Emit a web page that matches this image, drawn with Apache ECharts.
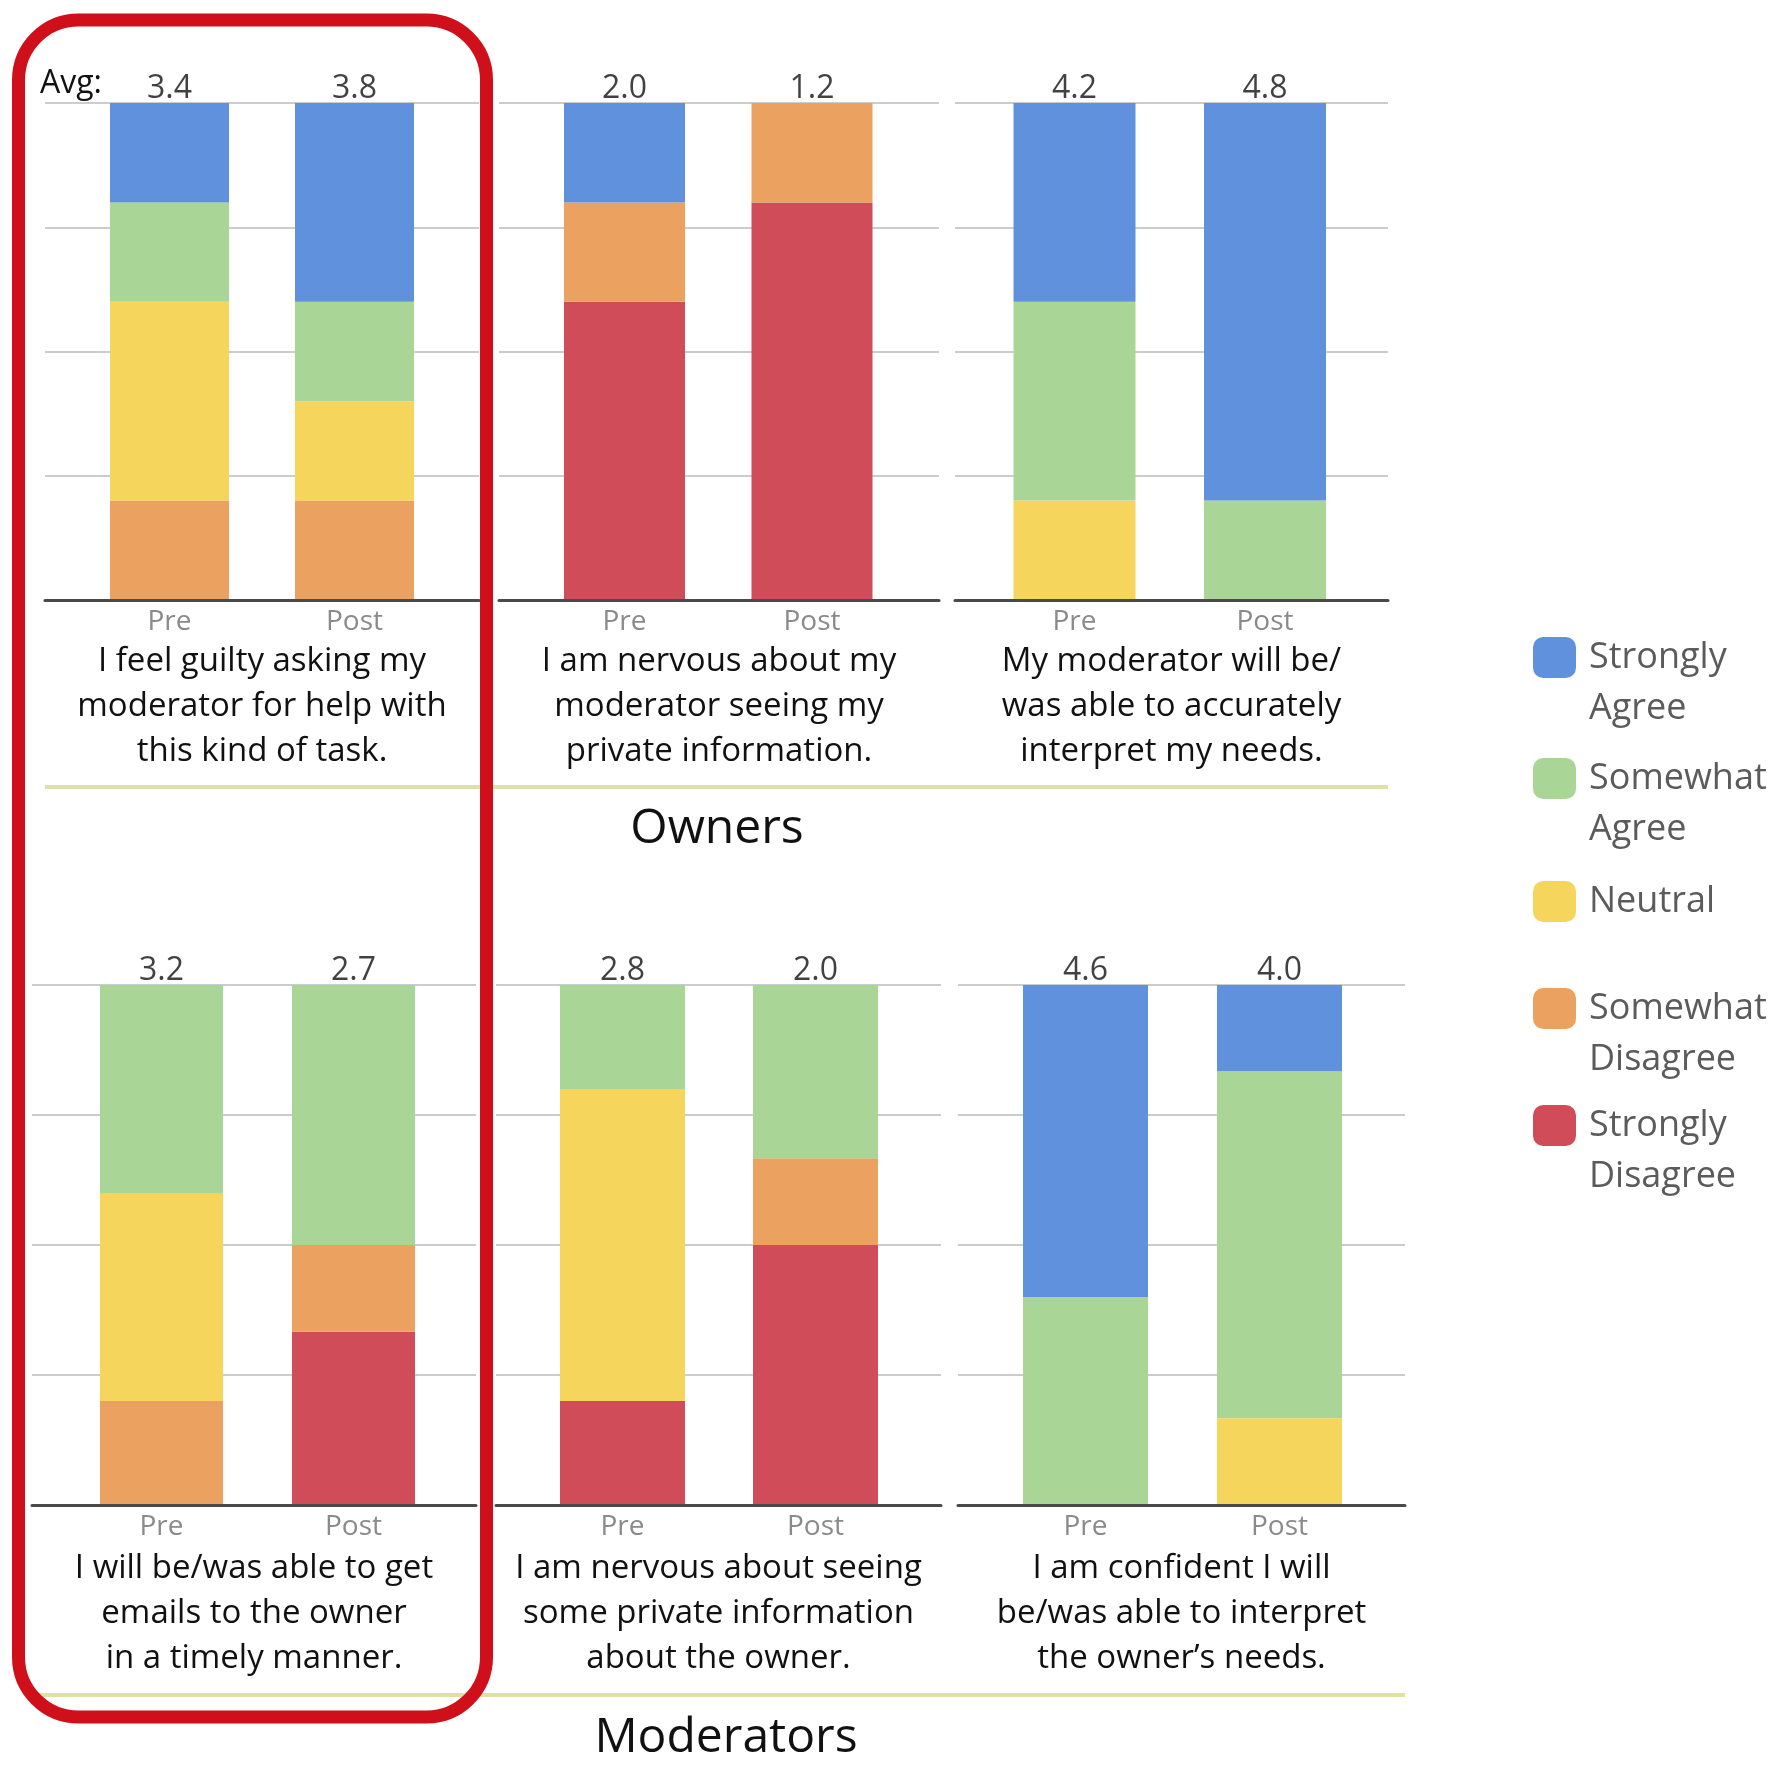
<!DOCTYPE html>
<html>
<head>
<meta charset="utf-8">
<script src="https://cdn.jsdelivr.net/npm/echarts@6/dist/echarts.min.js"></script>
<style>
html,body{margin:0;padding:0;background:#ffffff;}
#chart{width:1778px;height:1766px;}
</style>
</head>
<body>
<div id="chart"></div>
<script>
// ---------------- DATA ----------------
const phases = ['Pre', 'Post'];
const levels = ['Strongly Agree', 'Somewhat Agree', 'Neutral', 'Somewhat Disagree', 'Strongly Disagree'];
const groupTitles = ['Owners', 'Moderators'];
const questions = [
  'I feel guilty asking my\nmoderator for help with\nthis kind of task.',
  'I am nervous about my\nmoderator seeing my\nprivate information.',
  'My moderator will be/\nwas able to accurately\ninterpret my needs.',
  'I will be/was able to get\nemails to the owner\nin a timely manner.',
  'I am nervous about seeing\nsome private information\nabout the owner.',
  'I am confident I will\nbe/was able to interpret\nthe owner\u2019s needs.'
];
const avgLabels = [['3.4', '3.8'], ['2.0', '1.2'], ['4.2', '4.8'], ['3.2', '2.7'], ['2.8', '2.0'], ['4.6', '4.0']];
// share of respondents (%), [Pre, Post] for each of the six questions
const stronglyAgree    = [[20, 40], [20, 0], [40, 80], [0, 0], [0, 0], [60, 16.7]];
const somewhatAgree    = [[20, 20], [0, 0], [40, 20], [40, 50], [20, 33.3], [40, 66.7]];
const neutral          = [[40, 20], [0, 0], [20, 0], [40, 0], [60, 0], [0, 16.7]];
const somewhatDisagree = [[20, 20], [20, 20], [0, 0], [20, 16.7], [0, 16.7], [0, 0]];
const stronglyDisagree = [[0, 0], [60, 80], [0, 0], [0, 33.3], [20, 50], [0, 0]];
const percentTicks = [0, 25, 50, 75, 100];

// ---------------- LAYOUT / STYLE ----------------
const FONT = "'Open Sans', 'Noto Sans', sans-serif";
const colors = {
  'Strongly Agree': '#6091dd',
  'Somewhat Agree': '#a9d597',
  'Neutral': '#f6d55c',
  'Somewhat Disagree': '#eba15f',
  'Strongly Disagree': '#d14c59'
};
const valuesByLevel = {
  'Strongly Agree': stronglyAgree,
  'Somewhat Agree': somewhatAgree,
  'Neutral': neutral,
  'Somewhat Disagree': somewhatDisagree,
  'Strongly Disagree': stronglyDisagree
};
// panel frames: [left, right, top, bottom]
const frames = [
  [45, 479, 103, 600], [499, 939, 103, 600], [955, 1388, 103, 600],
  [32, 476, 985, 1505], [496, 941, 985, 1505], [958, 1405, 985, 1505]
];
// bars: [Pre centre x, Post centre x, bar width]
const barBoxes = [
  [169.5, 354.5, 119], [624.5, 812, 121], [1074.5, 1265, 122],
  [161.5, 353.5, 123], [622.5, 815.5, 125], [1085.5, 1279.5, 125]
];
const nameGaps = [39, 39, 39, 41, 41, 41];

const grid = [], xAxis = [], yAxis = [], series = [];
const stackOrder = ['Strongly Disagree', 'Somewhat Disagree', 'Neutral', 'Somewhat Agree', 'Strongly Agree'];

frames.forEach((f, i) => {
  const [l, r, t, b] = f;
  const [c0, c1, bw] = barBoxes[i];
  const step = c1 - c0;
  // frame grid: gridlines, axis line, question text
  grid.push({left: l, top: t, width: r - l, height: b - t});
  xAxis.push({
    gridIndex: 2 * i, type: 'value', min: 0, max: 1, z: 5,
    axisLine: {show: true, onZero: false, lineStyle: {color: '#4a4a4a', width: 3}},
    axisTick: {show: false}, axisLabel: {show: false}, splitLine: {show: false},
    name: questions[i], nameLocation: 'middle', nameGap: nameGaps[i],
    nameTextStyle: {fontFamily: FONT, fontSize: 33, lineHeight: 45, color: '#111111', align: 'center'}
  });
  yAxis.push({
    gridIndex: 2 * i, type: 'value', min: percentTicks[0], max: percentTicks[percentTicks.length - 1], interval: 25, z: 0,
    axisLine: {show: false}, axisTick: {show: false}, axisLabel: {show: false},
    splitLine: {show: true, lineStyle: {color: '#cccccc', width: 2}}
  });
  // bar grid
  grid.push({left: c0 - step / 2, top: t, width: step * 2, height: b - t});
  xAxis.push({
    gridIndex: 2 * i + 1, type: 'category', data: phases,
    axisLine: {show: false}, axisTick: {show: false}, splitLine: {show: false},
    axisLabel: {show: true, margin: 8, fontFamily: FONT, fontSize: 28, color: '#8a8a8a'}
  });
  yAxis.push({gridIndex: 2 * i + 1, type: 'value', min: 0, max: 100, show: false});

  stackOrder.forEach(name => {
    series.push({
      name: name, type: 'bar', stack: 'panel' + i,
      xAxisIndex: 2 * i + 1, yAxisIndex: 2 * i + 1,
      barWidth: bw, itemStyle: {color: colors[name]},
      data: valuesByLevel[name][i]
    });
  });
  series.push({
    name: 'avg', type: 'scatter', xAxisIndex: 2 * i + 1, yAxisIndex: 2 * i + 1,
    symbolSize: 1, itemStyle: {color: 'rgba(0,0,0,0)'}, silent: true, z: 6,
    data: [100, 100],
    label: {
      show: true, position: 'top', distance: -2,
      fontFamily: FONT, fontSize: 32, fontWeight: 500, color: '#111111',
      formatter: (p => avgLabels[i][p.dataIndex])
    }
  });
});

// legend: one component per item
const legendIconTops = [637, 758, 881, 988, 1105];
const legend = levels.map((name, k) => {
  const twoLines = name.indexOf(' ') >= 0;
  return {
    data: [name], orient: 'vertical', left: 1533, padding: 0,
    top: twoLines ? legendIconTops[k] - 56 : legendIconTops[k] - 5,
    icon: 'roundRect', itemWidth: 43, itemHeight: 41,
    // a leading blank line puts the first word level with the icon
    formatter: n => (n.indexOf(' ') >= 0 ? '\n' + n.replace(' ', '\n') : n),
    textStyle: {
      fontFamily: FONT, fontSize: 36, color: '#5b5b5b', lineHeight: 51,
      padding: [0, 0, 0, 8]
    }
  };
});

const graphic = [
  {type: 'rect', shape: {x: 18.5, y: 20, width: 468, height: 1697, r: 60},
   style: {fill: 'none', stroke: '#cf101b', lineWidth: 13}, z: 100},
  {type: 'line', shape: {x1: 45, y1: 787, x2: 1388, y2: 787},
   style: {stroke: '#dfe1a2', lineWidth: 4}, z: 1},
  {type: 'line', shape: {x1: 32, y1: 1695, x2: 1405, y2: 1695},
   style: {stroke: '#dfe1a2', lineWidth: 4}, z: 1},
  {type: 'text', x: 717, y: 829, style: {text: groupTitles[0], fontFamily: FONT, fontSize: 48,
   fill: '#111', align: 'center', verticalAlign: 'middle'}},
  {type: 'text', x: 726, y: 1738, style: {text: groupTitles[1], fontFamily: FONT, fontSize: 48,
   fill: '#111', align: 'center', verticalAlign: 'middle'}},
  {type: 'text', x: 40, y: 84, style: {text: 'Avg:', fontFamily: FONT, fontSize: 32, fontWeight: 500,
   fill: '#111111', align: 'left', verticalAlign: 'middle'}}
];

const chart = echarts.init(document.getElementById('chart'), null, {renderer: 'canvas'});
chart.setOption({
  backgroundColor: '#ffffff',
  animation: false,
  grid: grid, xAxis: xAxis, yAxis: yAxis, series: series,
  legend: legend, graphic: graphic
});
</script>
</body>
</html>
